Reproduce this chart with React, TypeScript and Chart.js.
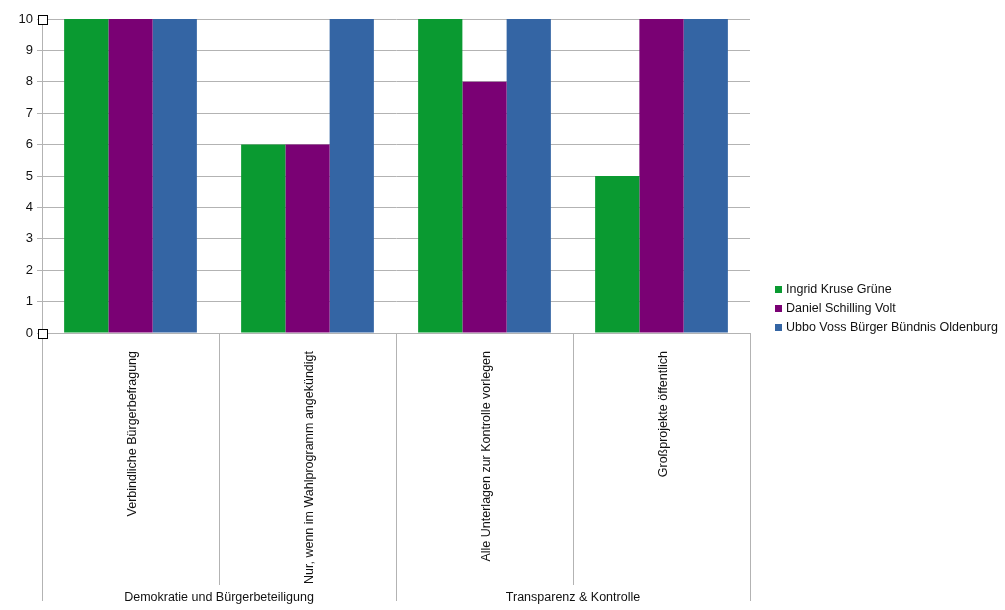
import { useEffect, useRef } from 'react';
import { Chart, registerables, Plugin } from 'chart.js';

Chart.register(...registerables);

const categories = [
    'Verbindliche Bürgerbefragung',
    'Nur, wenn im Wahlprogramm angekündigt',
    'Alle Unterlagen zur Kontrolle vorlegen',
    'Großprojekte öffentlich',
];
const groups = ['Demokratie und Bürgerbeteiligung', 'Transparenz & Kontrolle'];
const groupSize = 2;

const seriesNames = ['Ingrid Kruse Grüne', 'Daniel Schilling Volt', 'Ubbo Voss Bürger Bündnis Oldenburg'];
const kruse = [10, 6, 10, 5];
const schilling = [10, 6, 8, 10];
const voss = [10, 10, 10, 10];
const colors = ['#0a9a31', '#7a0174', '#3465a4'];

const FONT = '"Liberation Sans", Arial, sans-serif';
const LINE = '#b3b3b3';

// draws the category axis, group labels, handles and legend like the office export
const decorations: Plugin<'bar'> = {
    id: 'decorations',
    afterDraw(chart) {
        const { ctx, chartArea } = chart;
        const { left, right, top, bottom } = chartArea;
        const step = (right - left) / categories.length;
        ctx.save();
        ctx.strokeStyle = LINE;
        ctx.lineWidth = 1;

        // vertical separators below the plot
        for (let i = 0; i <= categories.length; i++) {
            const x = Math.round(left + i * step) + 0.5;
            const isGroupEdge = i % groupSize === 0;
            ctx.beginPath();
            ctx.moveTo(x, i === 0 ? top : bottom);
            ctx.lineTo(x, isGroupEdge ? 601 : 585);
            ctx.stroke();
        }

        // category labels, rotated
        ctx.fillStyle = '#111';
        ctx.font = `12.5px ${FONT}`;
        categories.forEach((c, i) => {
            const x = left + (i + 0.5) * step;
            ctx.save();
            ctx.translate(x + 5, bottom + 18);
            ctx.rotate(-Math.PI / 2);
            ctx.textAlign = 'right';
            ctx.textBaseline = 'alphabetic';
            ctx.fillText(c, 0, 0);
            ctx.restore();
        });

        // group labels
        ctx.textAlign = 'center';
        ctx.textBaseline = 'middle';
        groups.forEach((g, i) => {
            const x = left + (i * groupSize + groupSize / 2) * step;
            ctx.fillText(g, x, 598);
        });

        // small open squares at the ends of the y axis
        ctx.strokeStyle = '#000';
        [top, bottom].forEach((y) => {
            ctx.fillStyle = '#fff';
            ctx.fillRect(Math.round(left) - 4, Math.round(y) - 4, 9, 9);
            ctx.strokeRect(Math.round(left) - 4 + 0.5, Math.round(y) - 4 + 0.5, 9, 9);
        });

        // legend
        ctx.textAlign = 'left';
        ctx.textBaseline = 'middle';
        seriesNames.forEach((n, i) => {
            const y = 290 + i * 19;
            ctx.fillStyle = colors[i];
            ctx.fillRect(775, y - 4, 7, 7);
            ctx.fillStyle = '#111';
            ctx.fillText(n, 786, y);
        });
        ctx.restore();
    },
};

export default function App() {
    const canvasRef = useRef<HTMLCanvasElement | null>(null);

    useEffect(() => {
        document.body.style.margin = '0';
        if (!canvasRef.current) return;
        const chart = new Chart(canvasRef.current, {
            type: 'bar',
            data: {
                labels: categories,
                datasets: [kruse, schilling, voss].map((d, i) => ({
                    label: seriesNames[i],
                    data: d,
                    backgroundColor: colors[i],
                    borderWidth: 0,
                    barPercentage: 1,
                    categoryPercentage: 0.75,
                })),
            },
            options: {
                responsive: false,
                animation: false,
                layout: { padding: { top: 19, bottom: 610 - 333, left: 0, right: 1005 - 750 } },
                plugins: { legend: { display: false }, tooltip: { enabled: false } },
                scales: {
                    x: {
                        display: true,
                        ticks: { display: false },
                        grid: { display: false, drawTicks: false },
                        border: { display: false },
                    },
                    y: {
                        min: 0,
                        max: 10,
                        afterFit: (scale) => {
                            scale.width = 42;
                        },
                        ticks: {
                            stepSize: 1,
                            padding: 4,
                            color: '#111',
                            font: { family: FONT, size: 13 },
                        },
                        grid: { color: LINE, tickLength: 5, lineWidth: 1 },
                        border: { color: LINE },
                    },
                },
            },
            plugins: [decorations],
        });
        return () => chart.destroy();
    }, []);

    return (
        <div style={{ width: 1005, height: 610, background: '#fff' }}>
            <canvas ref={canvasRef} width={1005} height={610} style={{ display: 'block' }} />
        </div>
    );
}
